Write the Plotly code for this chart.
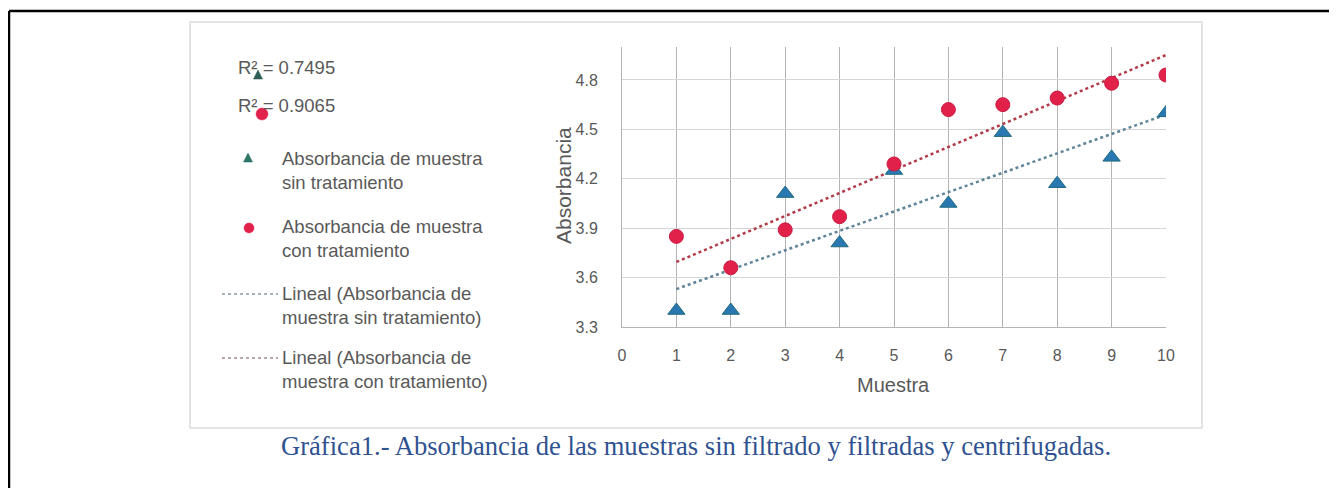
import numpy as np
import plotly.graph_objects as go

# ---- data ----
muestra = [1, 2, 3, 4, 5, 6, 7, 8, 9, 10]
sin_tratamiento = [3.40, 3.40, 4.11, 3.81, 4.25, 4.05, 4.48, 4.17, 4.33, 4.60]
con_tratamiento = [3.85, 3.66, 3.89, 3.97, 4.29, 4.62, 4.65, 4.69, 4.78, 4.83]
r2_labels = ["R² = 0.7495", "R² = 0.9065"]
legend_labels = [
    "Absorbancia de muestra<br>sin tratamiento",
    "Absorbancia de muestra<br>con tratamiento",
    "Lineal (Absorbancia de<br>muestra sin tratamiento)",
    "Lineal (Absorbancia de<br>muestra con tratamiento)",
]
x_ticks = list(range(0, 11))
y_ticks = [3.3, 3.6, 3.9, 4.2, 4.5, 4.8]
caption = "Gráfica1.- Absorbancia de las muestras sin filtrado y filtradas y centrifugadas."

# ---- layout geometry (page pixels; the page body has an 8px margin) ----
OFF = 8
PAGE_W, PAGE_H = 1337, 488
W, H = PAGE_W - OFF, PAGE_H - OFF
PL, PR, PT, PB = 622, 1166, 47, 327          # plot area in page pixels
L, R, T, B = PL - OFF, PAGE_W - PR, PT - OFF, PAGE_H - PB
PW, PH = PR - PL, PB - PT


def px(x):
    return (x - PL) / PW


def py(y):
    return (PB - y) / PH


GREY = "#595959"
TRI_COL = "#2a78b2"
CIR_COL = "#e2214b"
TREND_SIN = "#5f8499"
TREND_CON = "#b23a48"

fig = go.Figure()

# trendlines (least squares from data)
xs = np.array(muestra, dtype=float)
for ys, col in [(sin_tratamiento, TREND_SIN), (con_tratamiento, TREND_CON)]:
    m, b = np.polyfit(xs, np.array(ys), 1)
    fig.add_trace(go.Scatter(
        x=[xs[0], xs[-1]], y=[m * xs[0] + b, m * xs[-1] + b],
        mode="lines", line=dict(color=col, width=2.5, dash="dot"),
        showlegend=False, hoverinfo="skip"))

fig.add_trace(go.Scatter(
    x=muestra, y=sin_tratamiento, mode="markers",
    marker=dict(symbol="triangle-up", size=15, color=TRI_COL,
                line=dict(color="#1f6a7e", width=1)),
    showlegend=False))
fig.add_trace(go.Scatter(
    x=muestra, y=con_tratamiento, mode="markers",
    marker=dict(symbol="circle", size=14, color=CIR_COL,
                line=dict(color="#c81a40", width=1)),
    showlegend=False))

shapes = []
annotations = []

# outer black frame (document border)
shapes.append(dict(type="line", xref="paper", yref="paper",
                   x0=px(9), x1=px(1337), y0=py(11), y1=py(11),
                   line=dict(color="black", width=2.5)))
shapes.append(dict(type="line", xref="paper", yref="paper",
                   x0=px(9), x1=px(9), y0=py(11), y1=py(488),
                   line=dict(color="black", width=2.5)))
# chart image frame
shapes.append(dict(type="rect", xref="paper", yref="paper",
                   x0=px(190), x1=px(1202), y0=py(22), y1=py(428),
                   line=dict(color="#dcdcdc", width=1.5), layer="below"))

LEG_FONT = 18.5

# legend: R² entries
annotations.append(dict(xref="paper", yref="paper", x=px(236), y=py(68),
                        xanchor="left", yanchor="middle", showarrow=False,
                        text=r2_labels[0], font=dict(size=LEG_FONT, color=GREY)))
annotations.append(dict(xref="paper", yref="paper", x=px(236), y=py(105),
                        xanchor="left", yanchor="middle", showarrow=False,
                        text=r2_labels[1], font=dict(size=LEG_FONT, color=GREY)))


def tri_path(cx, cy, s):
    pts = [(cx, cy - s * 0.55), (cx - s * 0.5, cy + s * 0.45), (cx + s * 0.5, cy + s * 0.45)]
    return "M " + " L ".join(f"{px(a)},{py(c)}" for a, c in pts) + " Z"


shapes.append(dict(type="path", xref="paper", yref="paper",
                   path=tri_path(258, 75, 9), fillcolor="#2e5f55",
                   line=dict(color="#2e5f55", width=0.5)))
shapes.append(dict(type="circle", xref="paper", yref="paper",
                   x0=px(256), x1=px(268), y0=py(108), y1=py(120),
                   fillcolor=CIR_COL, line=dict(color=CIR_COL, width=0.5)))

# legend: series entries
shapes.append(dict(type="path", xref="paper", yref="paper",
                   path=tri_path(248, 158, 9), fillcolor="#2e7566",
                   line=dict(color="#2e7566", width=0.5)))
shapes.append(dict(type="circle", xref="paper", yref="paper",
                   x0=px(244), x1=px(254), y0=py(223), y1=py(233),
                   fillcolor=CIR_COL, line=dict(color=CIR_COL, width=0.5)))
shapes.append(dict(type="line", xref="paper", yref="paper",
                   x0=px(222), x1=px(278), y0=py(294), y1=py(294),
                   line=dict(color="#8a9aa5", width=1.5, dash="dot")))
shapes.append(dict(type="line", xref="paper", yref="paper",
                   x0=px(222), x1=px(278), y0=py(358), y1=py(358),
                   line=dict(color="#a58a90", width=1.5, dash="dot")))

for lab, yc in zip(legend_labels, [170, 238, 305, 369]):
    annotations.append(dict(xref="paper", yref="paper", x=px(280), y=py(yc),
                            xanchor="left", yanchor="middle", showarrow=False,
                            align="left", text=lab,
                            font=dict(size=LEG_FONT, color=GREY)))

# axis titles
annotations.append(dict(xref="paper", yref="paper", x=px(563), y=py(186),
                        xanchor="center", yanchor="middle", showarrow=False,
                        textangle=-90, text="Absorbancia",
                        font=dict(size=21, color=GREY)))
annotations.append(dict(xref="paper", yref="paper", x=px(893), y=py(385),
                        xanchor="center", yanchor="middle", showarrow=False,
                        text="Muestra", font=dict(size=20, color=GREY)))

# caption
annotations.append(dict(xref="paper", yref="paper", x=px(696), y=py(446),
                        xanchor="center", yanchor="middle", showarrow=False,
                        text=caption,
                        font=dict(family="Liberation Serif, Times New Roman, serif",
                                  size=26.6, color="#2f5290")))

fig.update_layout(
    width=W, height=H,
    margin=dict(l=L, r=R, t=T, b=B, pad=0),
    paper_bgcolor="white", plot_bgcolor="white",
    font=dict(family="Liberation Sans, Arial, sans-serif", color=GREY, size=16),
    shapes=shapes, annotations=annotations,
    showlegend=False,
)
fig.update_xaxes(range=[0, 10], tickvals=x_ticks, showgrid=True,
                 gridcolor="#b3b3b3", gridwidth=1, zeroline=False,
                 showline=True, linecolor="#b3b3b3",
                 ticks="outside", ticklen=14, tickcolor="rgba(0,0,0,0)",
                 tickfont=dict(size=16, color=GREY))
fig.update_yaxes(range=[3.3, 5.0], tickvals=y_ticks,
                 ticktext=[f"{v:.1f}" for v in y_ticks], showgrid=True,
                 gridcolor="#d6d6d6", gridwidth=1, zeroline=False,
                 showline=True, linecolor="#b3b3b3",
                 ticks="outside", ticklen=20, tickcolor="rgba(0,0,0,0)",
                 tickfont=dict(size=16, color=GREY))

fig.write_html(
    "out.html",
    config={"displayModeBar": False},
    post_script="document.documentElement.style.overflow='hidden';"
                "document.body.style.overflow='hidden';",
)
